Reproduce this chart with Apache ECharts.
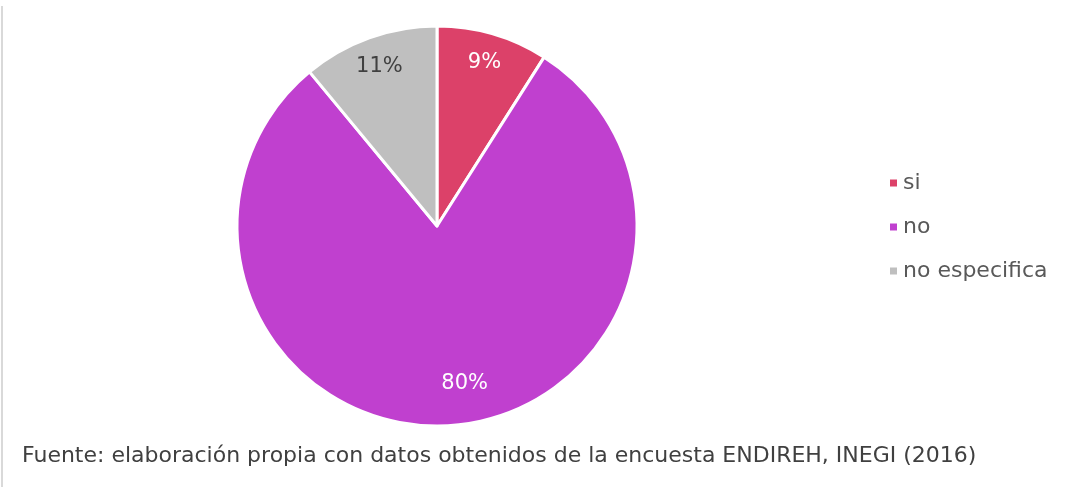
<!DOCTYPE html>
<html>
<head>
<meta charset="utf-8">
<script src="https://cdn.jsdelivr.net/npm/echarts@6/dist/echarts.min.js"></script>
<style>
  html, body { margin: 0; padding: 0; background: #fff; }
  #chart { width: 1089px; height: 487px; }
</style>
</head>
<body>
<div id="chart"></div>
<script>
// categorias y porcentajes
const categories = ["si", "no", "no especifica"];
const values = [9, 80, 11];
const colors = ["#DC4169", "#C040CF", "#BFBFBF"];
const labelColors = ["#ffffff", "#ffffff", "#404040"];
const footer = "Fuente: elaboración propia con datos obtenidos de la encuesta ENDIREH, INEGI (2016)";

const font = "DejaVu Sans";

const pieData = categories.map((name, i) => ({
  name,
  value: values[i],
  itemStyle: { color: colors[i] },
}));

const labelData = categories.map((name, i) => ({
  name,
  value: values[i],
  label: { color: labelColors[i] },
}));

const chart = echarts.init(document.getElementById("chart"), null, { renderer: "canvas" });

chart.setOption({
  animation: false,
  backgroundColor: "#fff",
  legend: {
    orient: "vertical",
    left: 883,
    top: 167,
    icon: "rect",
    itemWidth: 9,
    itemHeight: 9,
    itemGap: 22,
    data: categories,
    textStyle: { color: "#595959", fontSize: 22, fontFamily: font },
  },
  graphic: [
    {
      type: "text",
      left: 22,
      top: 445,
      style: { text: footer, fill: "#404040", fontSize: 22, fontFamily: font },
    },
    {
      type: "rect",
      shape: { x: 1, y: 6, width: 2, height: 481 },
      style: { fill: "#d9d9d9" },
      silent: true,
    },
  ],
  series: [
    {
      // la torta
      name: "respuesta",
      type: "pie",
      center: [437, 226],
      radius: [0, 200],
      startAngle: 90,
      clockwise: true,
      label: { show: false },
      labelLine: { show: false },
      itemStyle: { borderColor: "#fff", borderWidth: 3 },
      emphasis: { disabled: true },
      data: pieData,
    },
    {
      // solo etiquetas (anillo transparente)
      name: "etiquetas",
      type: "pie",
      center: [437, 226],
      radius: [134, 200],
      startAngle: 90,
      clockwise: true,
      silent: true,
      legendHoverLink: false,
      itemStyle: { color: "transparent" },
      label: {
        show: true,
        position: "inside",
        formatter: "{c}%",
        fontSize: 21,
        fontFamily: font,
      },
      labelLayout: (p) => (p.dataIndex === 1 ? { dx: 17, dy: -12 } : {}),
      labelLine: { show: false },
      emphasis: { disabled: true },
      data: labelData,
    },
  ],
});

window.addEventListener("resize", () => {
  chart.resize();
});
</script>
</body>
</html>
